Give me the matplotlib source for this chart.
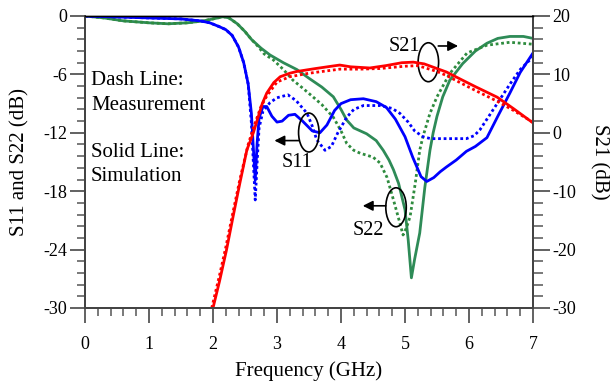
import matplotlib
matplotlib.use("Agg")
import matplotlib.pyplot as plt
from matplotlib.patches import Ellipse
from matplotlib.ticker import MultipleLocator

plt.rcParams['font.family'] = ['Liberation Serif', 'DejaVu Serif']

# ---------------- data ----------------
s11_sim_f = [0, 0.5, 1.0, 1.5, 1.8, 1.95, 2.1, 2.2, 2.3, 2.4, 2.48, 2.55, 2.6, 2.63, 2.66,
             2.69, 2.72, 2.78, 2.84, 2.92, 3.0, 3.08, 3.18, 3.28, 3.4, 3.55, 3.67, 3.78,
             3.9, 4.0, 4.15, 4.35, 4.55, 4.71, 4.85, 5.0, 5.12, 5.25, 5.34, 5.45, 5.55,
             5.65, 5.8, 5.96, 6.1, 6.28, 6.45, 6.64, 6.8, 7.0]
s11_sim_db = [0, -0.1, -0.2, -0.3, -0.5, -0.7, -1.1, -1.4, -2.0, -3.2, -4.8, -7.0, -10.0, -13.5, -16.9,
              -13.0, -10.5, -9.3, -9.3, -10.3, -10.9, -10.8, -10.2, -10.1, -10.8, -11.8, -12.0, -11.2,
              -9.7, -9.0, -8.6, -8.5, -8.8, -9.4, -10.6, -12.4, -14.5, -16.5, -17.0, -16.6, -16.0,
              -15.5, -14.8, -13.9, -13.4, -12.5, -10.3, -7.9, -5.8, -3.8]

s11_meas_f = [0, 0.5, 1.0, 1.5, 1.8, 1.95, 2.1, 2.2, 2.3, 2.4, 2.48, 2.55, 2.6, 2.63, 2.66,
              2.69, 2.72, 2.78, 2.89, 3.0, 3.17, 3.3, 3.47, 3.55, 3.62, 3.75, 3.85, 3.95,
              4.09, 4.2, 4.35, 4.61, 4.8, 4.92, 5.05, 5.15, 5.28, 5.4, 5.65, 5.96, 6.08,
              6.17, 6.3, 6.48, 6.65, 6.8, 7.0]
s11_meas_db = [0, -0.1, -0.2, -0.3, -0.5, -0.7, -1.1, -1.4, -2.0, -3.2, -4.8, -7.0, -11.0, -15.0, -18.9,
               -15.0, -11.5, -9.8, -8.9, -8.4, -8.1, -8.7, -10.0, -11.3, -12.7, -13.8, -13.4, -12.0,
               -10.4, -9.6, -9.2, -9.2, -9.5, -10.0, -10.9, -11.8, -12.4, -12.6, -12.6, -12.6, -12.3,
               -11.7, -10.4, -8.6, -6.9, -5.5, -4.2]

s22_sim_f = [0, 0.3, 0.6, 1.0, 1.3, 1.6, 1.85, 2.0, 2.16, 2.25, 2.38, 2.5, 2.6, 2.75, 2.89,
             3.1, 3.31, 3.5, 3.7, 3.88, 4.0, 4.09, 4.2, 4.4, 4.55, 4.66, 4.75, 4.82, 4.9,
             5.0, 5.05, 5.1, 5.15, 5.23, 5.31, 5.39, 5.44, 5.5, 5.59, 5.7, 5.9, 6.1, 6.28,
             6.45, 6.64, 6.85, 7.0]
s22_sim_db = [0, -0.2, -0.5, -0.7, -0.8, -0.7, -0.5, -0.3, -0.07, -0.2, -0.8, -1.6, -2.4, -3.3, -4.0,
              -4.8, -5.5, -6.4, -7.3, -8.3, -9.6, -10.7, -11.5, -12.1, -12.8, -13.8, -14.8, -15.8, -17.2,
              -19.9, -23.0, -26.9, -25.0, -22.3, -17.6, -13.8, -12.0, -10.3, -8.3, -6.6, -4.9, -3.6, -2.8,
              -2.3, -2.1, -2.1, -2.3]

s22_meas_f = [0, 0.3, 0.6, 1.0, 1.3, 1.6, 1.85, 2.0, 2.16, 2.25, 2.38, 2.5, 2.6, 2.7, 2.8,
              2.94, 3.1, 3.25, 3.4, 3.56, 3.7, 3.88, 4.0, 4.09, 4.2, 4.3, 4.5, 4.61, 4.72,
              4.82, 4.9, 4.97, 5.02, 5.08, 5.16, 5.23, 5.28, 5.39, 5.5, 5.7, 5.97, 6.28,
              6.64, 7.0]
s22_meas_db = [0, -0.2, -0.5, -0.7, -0.8, -0.7, -0.5, -0.3, -0.07, -0.2, -0.8, -1.6, -2.4, -3.1, -3.9,
               -4.5, -5.5, -6.6, -7.4, -8.3, -9.1, -10.4, -11.8, -13.1, -13.8, -14.1, -14.5, -15.1, -16.6,
               -18.9, -20.8, -22.5, -21.8, -20.6, -17.2, -13.8, -12.4, -10.0, -8.3, -5.9, -3.8, -3.0,
               -2.7, -2.9]

s21_sim_f = [2.0, 2.1, 2.21, 2.32, 2.42, 2.53, 2.6, 2.63, 2.7, 2.77, 2.84, 2.95, 3.05, 3.2,
             3.31, 3.6, 3.85, 3.98, 4.15, 4.45, 4.7, 4.95, 5.13, 5.3, 5.5, 5.65, 5.9, 6.1,
             6.44, 6.7, 7.0]
s21_sim_db = [-30, -25.5, -20.1, -14.0, -8.6, -2.9, -0.9, 0.0, 2.5, 5.0, 6.8, 8.6, 9.6, 10.2,
              10.5, 11.0, 11.4, 11.6, 11.3, 11.1, 11.5, 12.0, 12.1, 11.8, 11.0, 10.4, 9.0, 7.9,
              6.1, 4.1, 1.7]

s21_meas_f = [1.98, 2.1, 2.2, 2.32, 2.42, 2.55, 2.63, 2.75, 2.84, 3.0, 3.2, 3.5, 3.98, 4.3,
              4.6, 5.0, 5.2, 5.5, 5.65, 6.0, 6.44, 6.7, 7.0]
s21_meas_db = [-30, -24.5, -19.6, -13.2, -8.0, -2.0, 0.8, 4.5, 6.3, 8.7, 9.6, 10.2, 10.9, 10.9,
               11.0, 11.4, 11.5, 10.5, 9.8, 7.8, 5.4, 3.8, 1.8]

x_ticks = [0, 1, 2, 3, 4, 5, 6, 7]
left_ticks = [0, -6, -12, -18, -24, -30]
right_ticks = [20, 10, 0, -10, -20, -30]

# ---------------- figure ----------------
fig = plt.figure(figsize=(6.1, 3.86), dpi=100)
ax = fig.add_axes([85/610, 1-308/386, 448/610, 292/386])
ax2 = ax.twinx()

blue = '#0000ff'
green = '#2e8b57'
red = '#ff0000'
lw = 2.0
dot = (0, (1.0, 1.0))

ax.plot(s11_sim_f, s11_sim_db, color=blue, lw=lw, solid_capstyle='round', zorder=3)
ax.plot(s11_meas_f, s11_meas_db, color=blue, lw=lw, linestyle=dot, zorder=3)
ax.plot(s22_sim_f, s22_sim_db, color=green, lw=lw, solid_capstyle='round', zorder=2)
ax.plot(s22_meas_f, s22_meas_db, color='#2e8b3e', lw=lw, linestyle=dot, zorder=2)
ax2.plot(s21_sim_f, s21_sim_db, color=red, lw=lw, solid_capstyle='round')
ax2.plot(s21_meas_f, s21_meas_db, color=red, lw=lw, linestyle=dot)

ax.set_xlim(0, 7)
ax.set_ylim(-30, 0)
ax2.set_ylim(-30, 20)

ax.set_xticks(x_ticks)
ax.set_xticklabels([str(t) for t in x_ticks])
ax.xaxis.set_minor_locator(MultipleLocator(0.2))
ax.set_yticks(left_ticks)
ax.set_yticklabels([str(t) for t in left_ticks])
ax.yaxis.set_minor_locator(MultipleLocator(1.2))
ax2.set_yticks(right_ticks)
ax2.set_yticklabels([str(t) for t in right_ticks])
ax2.yaxis.set_minor_locator(MultipleLocator(2))

spine_c = '#444444'
tick_c = '#555555'
for a in (ax, ax2):
    for s in a.spines.values():
        s.set_color(spine_c)
        s.set_linewidth(1.4)
    a.spines['top'].set_color('black')
    a.spines['top'].set_linewidth(1.0)

ax.tick_params(axis='x', which='major', direction='out', length=11, width=1.3, color=tick_c,
               labelsize=13, pad=9)
ax.tick_params(axis='x', which='minor', direction='out', length=6, width=1.1, color=tick_c)
ax.tick_params(axis='y', which='major', direction='out', length=11, width=1.3, color=tick_c,
               labelsize=13, pad=2)
ax.tick_params(axis='y', which='minor', direction='out', length=6, width=1.1, color=tick_c)
ax2.tick_params(axis='y', which='major', direction='out', length=12, width=1.3, color=tick_c,
                labelsize=13, pad=2)
ax2.tick_params(axis='y', which='minor', direction='out', length=7, width=1.1, color=tick_c)

ax.set_xlabel('Frequency (GHz)', fontsize=15, labelpad=6)
ax.set_ylabel('S11 and S22 (dB)', fontsize=15, labelpad=10)
fig.text(599/610, 1-162/386, 'S21 (dB)', fontsize=15, rotation=270, ha='center', va='center')

# legend-like texts
ax.text(0.094, -7.09, 'Dash Line:', fontsize=15, va='baseline', ha='left')
ax.text(0.094, -9.66, 'Measurement', fontsize=15, va='baseline', ha='left')
ax.text(0.094, -14.5, 'Solid Line:', fontsize=15, va='baseline', ha='left')
ax.text(0.094, -17.0, 'Simulation', fontsize=15, va='baseline', ha='left')

# ellipses and arrows
ew, eh = 0.32, 4.0
for (cx, cy) in [(3.497, -11.97), (5.365, -4.75), (4.86, -19.65)]:
    ax.add_patch(Ellipse((cx, cy), ew, eh, fill=False, edgecolor='black', lw=1.2, zorder=5))

ap = dict(arrowstyle='-|>,head_length=0.6,head_width=0.3', color='black', lw=1.2,
          shrinkA=0, shrinkB=0)
ax.annotate('', xy=(2.96, -12.8), xytext=(3.34, -12.8), arrowprops=ap, zorder=5)
ax.annotate('', xy=(5.83, -3.08), xytext=(5.52, -3.08), arrowprops=ap, zorder=5)
ax.annotate('', xy=(4.34, -19.5), xytext=(4.70, -19.5), arrowprops=ap, zorder=5)

ax.text(3.32, -15.1, 'S11', fontsize=14.5, ha='center', va='center', zorder=6)
ax.text(5.23, -3.1, 'S21', fontsize=14.5, ha='right', va='center', zorder=6)
ax.text(4.43, -22.0, 'S22', fontsize=14.5, ha='center', va='center', zorder=6)

fig.savefig('out.png', dpi=100)
